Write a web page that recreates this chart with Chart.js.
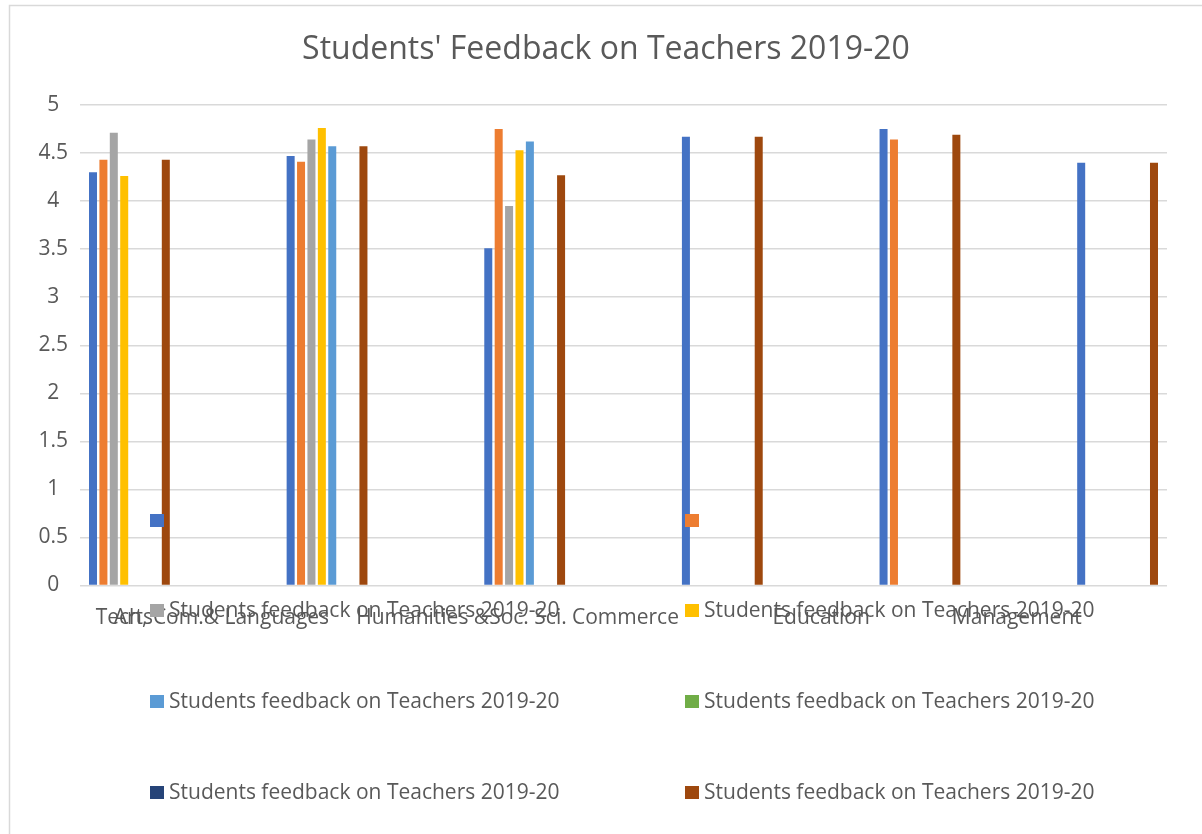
<!DOCTYPE html>
<html>
<head>
<meta charset="utf-8">
<script src="https://cdn.jsdelivr.net/npm/chart.js@4/dist/chart.umd.min.js"></script>
<style>
  html, body { margin: 0; padding: 0; background: #fff; }
  #wrap { width: 1202px; height: 834px; }
</style>
</head>
<body>
<div id="wrap"><canvas id="graph-feedback"></canvas></div>
<script>
// datos
const title = "Students' Feedback on Teachers 2019-20";
const seriesName = "Students feedback on Teachers 2019-20";
const groups = [0, 1, 2, 3, 4, 5];
const blue = [4.30, 4.47, 3.51, 4.67, 4.75, 4.40];
const orange = [4.43, 4.41, 4.75, null, 4.64, null];
const gray = [4.71, 4.64, 3.95, null, null, null];
const yellow = [4.26, 4.76, 4.53, null, null, null];
const lightBlue = [null, 4.57, 4.62, null, null, null];
const green = [null, null, null, null, null, null];
const darkBlue = [null, null, null, null, null, null];
const brown = [4.43, 4.57, 4.27, 4.67, 4.69, 4.40];

// etiquetas del eje x (se solapan como en el original)
const axisLabels = ["Arts", "Tech, Com.& Languages", "Humanities &Soc. Sci.", "Commerce", "Education", "Management"];
const axisLabelAt = [0.02, 0.42, 1.68, 2.51, 3.5, 4.49];

const yTicks = [0, 0.5, 1, 1.5, 2, 2.5, 3, 3.5, 4, 4.5, 5];

const colores = ["#4472C4", "#ED7D31", "#A5A5A5", "#FFC000", "#5B9BD5", "#70AD47", "#264478", "#9E480E"];
const series = [blue, orange, gray, yellow, lightBlue, green, darkBlue, brown];

const textColor = "#595959";
const fontFamily = "'Open Sans', 'Noto Sans', sans-serif";

// marco, titulo y leyenda dibujados a mano
const decorPlugin = {
  id: "decor",
  beforeDraw(chart) {
    const ctx = chart.ctx;
    ctx.save();
    ctx.strokeStyle = "#d9d9d9";
    ctx.lineWidth = 1.5;
    ctx.beginPath();
    ctx.moveTo(9.5, 834);
    ctx.lineTo(9.5, 5.5);
    ctx.lineTo(1202, 5.5);
    ctx.stroke();
    ctx.fillStyle = textColor;
    ctx.font = "32px " + fontFamily;
    ctx.textAlign = "center";
    ctx.textBaseline = "middle";
    ctx.fillText(title, 606, 50);
    ctx.restore();
  },
  afterDraw(chart) {
    const ctx = chart.ctx;
    ctx.save();
    ctx.font = "21px " + fontFamily;
    ctx.textBaseline = "middle";
    ctx.textAlign = "left";
    const colX = [150, 685];
    const rowY = [521, 611, 702, 793];
    chart.data.datasets.forEach((ds, i) => {
      const x = colX[i % 2];
      const y = rowY[Math.floor(i / 2)];
      ctx.fillStyle = ds.backgroundColor;
      ctx.fillRect(x, y - 7, 14, 13);
      // la primera fila del original no muestra texto
      if (i >= 2) {
        ctx.fillStyle = textColor;
        ctx.fillText(ds.label, x + 19, y);
      }
    });
    ctx.restore();
  }
};

const datasets = series.map((vals, i) => ({
  label: seriesName,
  data: groups.map((g, j) => ({ x: g, y: vals[j] })),
  backgroundColor: colores[i],
  categoryPercentage: 0.421,
  barPercentage: 0.77,
  xAxisID: "x"
}));

const canvas = document.getElementById("graph-feedback");
const grafico = new Chart(canvas, {
  type: "bar",
  data: { datasets: datasets },
  options: {
    responsive: true,
    maintainAspectRatio: false,
    animation: false,
    layout: { padding: { top: 105, right: 35, left: 0, bottom: 0 } },
    plugins: {
      legend: { display: false },
      title: { display: false },
      tooltip: { enabled: false }
    },
    scales: {
      x: {
        type: "linear",
        display: false,
        offset: false,
        min: -0.25,
        max: 5.25,
        afterBuildTicks: scale => {
          scale.ticks = groups.map(v => ({ value: v }));
        }
      },
      x2: {
        type: "linear",
        position: "bottom",
        offset: false,
        min: -0.25,
        max: 5.25,
        grid: { display: false, drawTicks: false, offset: false },
        border: { display: false },
        afterBuildTicks: scale => {
          scale.ticks = axisLabelAt.map(v => ({ value: v }));
        },
        ticks: {
          autoSkip: false,
          maxRotation: 0,
          padding: 20,
          color: textColor,
          font: { family: fontFamily, size: 21 },
          callback: (value, index) => axisLabels[index]
        },
        afterFit: scale => { scale.height = 248.5; }
      },
      y: {
        min: 0,
        max: 5,
        afterBuildTicks: scale => {
          scale.ticks = yTicks.map(v => ({ value: v }));
        },
        grid: { color: "#d9d9d9", lineWidth: 1.5, drawTicks: false },
        border: { display: false },
        ticks: {
          padding: 12,
          crossAlign: "center",
          color: textColor,
          font: { family: fontFamily, size: 21 },
          callback: value => String(value)
        },
        afterFit: scale => { scale.width = 80; }
      }
    }
  },
  plugins: [decorPlugin]
});
</script>
</body>
</html>
